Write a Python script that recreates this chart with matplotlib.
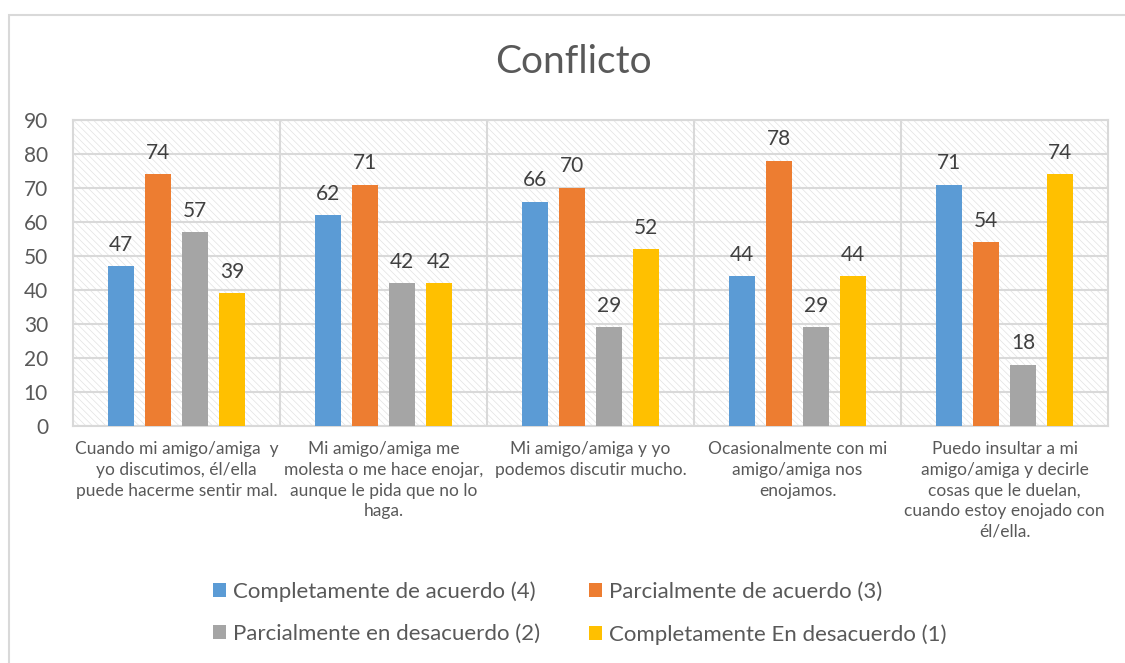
import numpy as np
import matplotlib.pyplot as plt
from matplotlib.patches import Rectangle

plt.rcParams['font.family'] = ['Lato', 'DejaVu Sans']
plt.rcParams['hatch.linewidth'] = 0.5

categorias = [
    'Cuando mi amigo/amiga  y\nyo discutimos, él/ella\npuede hacerme sentir mal.',
    'Mi amigo/amiga me\nmolesta o me hace enojar,\naunque le pida que no lo\nhaga.',
    'Mi amigo/amiga y yo\npodemos discutir mucho.',
    'Ocasionalmente con mi\namigo/amiga nos\nenojamos.',
    'Puedo insultar a mi\namigo/amiga y decirle\ncosas que le duelan,\ncuando estoy enojado con\nél/ella.',
]
series = [
    'Completamente de acuerdo (4)',
    'Parcialmente de acuerdo (3)',
    'Parcialmente en desacuerdo (2)',
    'Completamente En desacuerdo (1)',
]
completamente_acuerdo = [47, 62, 66, 44, 71]
parcialmente_acuerdo = [74, 71, 70, 78, 54]
parcialmente_desacuerdo = [57, 42, 29, 29, 18]
completamente_desacuerdo = [39, 42, 52, 44, 74]
valores = [completamente_acuerdo, parcialmente_acuerdo,
           parcialmente_desacuerdo, completamente_desacuerdo]
colores = ['#5B9BD5', '#ED7D31', '#A5A5A5', '#FFC000']

fig = plt.figure(figsize=(11.25, 6.63), dpi=100)
ax = fig.add_axes([0.0649, 0.3575, 0.9201, 0.4615])

# marco gris del gráfico
fig.patches.append(Rectangle((9 / 1125, -0.01), 1.0, 1 - 15 / 663 + 0.01,
                             transform=fig.transFigure, fill=False,
                             edgecolor='#d9d9d9', linewidth=1.5))

x = np.arange(len(categorias))
ancho = 0.126
paso = 0.179

# fondo rayado del área de trazado
ax.add_patch(Rectangle((0, 0), 1, 1, transform=ax.transAxes, facecolor='white',
                       edgecolor='#e2e2e2', hatch='\\\\\\\\\\', linewidth=0, zorder=0))

handles = []
for i, (vals, color, nombre) in enumerate(zip(valores, colores, series)):
    pos = x + (i - 1.5) * paso
    bars = ax.bar(pos, vals, width=ancho, color=color, label=nombre, zorder=3)
    handles.append(bars)
    for b, v in zip(bars, vals):
        ax.text(b.get_x() + b.get_width() / 2, v + 3.4, str(v), ha='center',
                va='bottom', fontsize=15, color='#404040', zorder=4)

ax.set_xlim(-0.5, len(categorias) - 0.5)
ax.set_ylim(0, 90)
ax.set_yticks(range(0, 91, 10))
ax.set_xticks(x)
ax.set_xticklabels(categorias, fontsize=12.5, color='#595959', linespacing=1.36, va='top')
ax.tick_params(axis='y', labelsize=15, labelcolor='#595959', length=0, pad=18)
ax.tick_params(axis='x', length=0, pad=11)

ax.grid(axis='y', color='#d9d9d9', linewidth=1.5, zorder=1)
for b in np.arange(0.5, len(categorias) - 0.5, 1):
    ax.axvline(b, color='#d9d9d9', linewidth=1.5, zorder=1)
for s in ax.spines.values():
    s.set_color('#d9d9d9')
    s.set_linewidth(1.5)

fig.text(0.51, 1 - 62 / 663, 'Conflicto', ha='center', va='center',
         fontsize=28, color='#595959')

# orden por filas: la leyenda se llena por columnas
orden = [0, 2, 1, 3]
leg = fig.legend([handles[i] for i in orden], [series[i] for i in orden],
                 loc='center', bbox_to_anchor=(0.515, 1 - 613 / 663), ncol=2,
                 frameon=False, fontsize=16, handlelength=0.6, handleheight=0.6,
                 handletextpad=0.3, columnspacing=2.2, labelspacing=1.0)
for t in leg.get_texts():
    t.set_color('#595959')

plt.savefig('out.png', dpi=100)
